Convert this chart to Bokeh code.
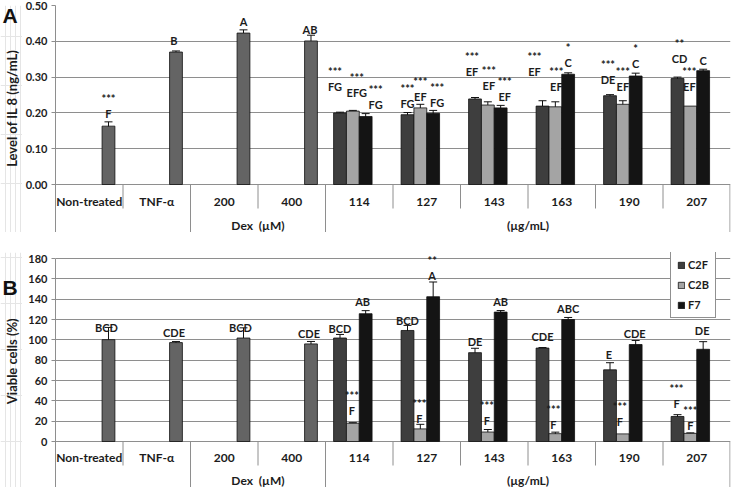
import math
from bokeh.plotting import figure
from bokeh.layouts import column, row
from bokeh.models import (ColumnDataSource, Range1d, FixedTicker, Whisker, TeeHead,
                          Legend, LegendItem, NumeralTickFormatter)
from bokeh.core.properties import value
from bokeh.embed import file_html
from bokeh.resources import INLINE

# ---------------- data ----------------
groups = ["Non-treated", "TNF-\u03b1", "200", "400", "114", "127", "143", "163", "190", "207"]
ctrl_groups = ["Non-treated", "TNF-\u03b1", "200", "400"]
dex_groups = ["200", "400"]
extract_groups = ["114", "127", "143", "163", "190", "207"]
dex_title = "Dex\u00a0\u00a0(\u00b5M)"
extract_title = "(\u00b5g/mL)"
series_names = ["C2F", "C2B", "F7"]

# Panel A: IL 8 (ng/mL)
il8_ctrl = [0.163, 0.370, 0.423, 0.401]
il8_ctrl_err = [0.012, 0.003, 0.009, 0.016]
il8_c2f = [0.200, 0.195, 0.239, 0.219, 0.248, 0.296]
il8_c2f_err = [0.002, 0.006, 0.004, 0.015, 0.003, 0.004]
il8_c2b = [0.205, 0.214, 0.222, 0.217, 0.224, 0.219]
il8_c2b_err = [0.002, 0.010, 0.009, 0.014, 0.010, 0.0]
il8_f7 = [0.190, 0.199, 0.214, 0.308, 0.303, 0.318]
il8_f7_err = [0.008, 0.008, 0.007, 0.004, 0.008, 0.004]

il8_ctrl_letters = ["F", "B", "A", "AB"]
il8_ctrl_stars = ["***", "", "", ""]
il8_c2f_letters = ["FG", "FG", "EF", "EF", "DE", "CD"]
il8_c2f_stars = ["***", "***", "***", "***", "***", "**"]
il8_c2b_letters = ["EFG", "EF", "EF", "EF", "EF", "EF"]
il8_c2b_stars = ["***", "***", "***", "***", "***", "***"]
il8_f7_letters = ["FG", "FG", "EF", "C", "C", "C"]
il8_f7_stars = ["***", "***", "***", "*", "*", ""]

# Panel B: viable cells (%)
via_ctrl = [100.2, 97.3, 101.8, 96.0]
via_ctrl_err = [12.0, 1.0, 10.0, 2.4]
via_c2f = [101.8, 109.2, 87.4, 91.9, 70.5, 24.6]
via_c2f_err = [3.5, 5.0, 4.3, 0.5, 7.0, 1.8]
via_c2b = [18.0, 12.4, 9.3, 7.7, 7.5, 8.0]
via_c2b_err = [0.5, 4.5, 2.5, 1.5, 0.0, 0.5]
via_f7 = [125.7, 142.4, 127.3, 120.0, 95.4, 90.7]
via_f7_err = [3.0, 14.5, 1.5, 2.0, 4.0, 7.5]

via_ctrl_letters = ["BCD", "CDE", "BCD", "CDE"]
via_ctrl_stars = ["", "", "", ""]
via_c2f_letters = ["BCD", "BCD", "DE", "CDE", "E", "F"]
via_c2f_stars = ["", "", "", "", "", "***"]
via_c2b_letters = ["F", "F", "F", "F", "F", "F"]
via_c2b_stars = ["***", "***", "***", "***", "***", "***"]
via_f7_letters = ["AB", "A", "AB", "ABC", "CDE", "DE"]
via_f7_stars = ["", "**", "", "", "", ""]

# ---------------- layout / style ----------------
W = 732
SIDE = 22          # strip holding the panel letter and the y title
BL = 33            # room for tick labels
ROW1_H = 24
BAR_W = 0.19
OFFS = {"ctrl": 1.5, "C2F": -1.5, "C2B": -0.5, "F7": 0.5}
COLORS = {"ctrl": "#646464", "C2F": "#3e3e3e", "C2B": "#a4a4a4", "F7": "#141414"}
GRID = "#8e8e8e"
TXT = "#1c1c1c"
FONT = "Lato"
STAR_GAP = 15

# label placement (pixels above the error-bar top, and horizontal nudge)
A_DY = {"ctrl": [8, 10, 8, 6], "C2F": [26, 9, 26, 29, 15, 19],
        "C2B": [18, 8, 16, 15, 14, 20], "F7": [9, 8, 9, 10, 10, 9]}
A_DX = {"ctrl": [0, -2, 0, -1], "C2F": [-5, 0, -3, -8, -2, 2],
        "C2B": [4, 0, 1, 1, 0, -1], "F7": [10, 4, 4, 0, 0, 0]}
B_DY = {"ctrl": [0, 9, 0, 8], "C2F": [6, 5, 7, 11, 8, 11],
        "C2B": [12, 6, 9, 8, 12, 7], "F7": [9, 6, 9, 9, 7, 11]}
B_DX = {"ctrl": [-2, -2, -3, -2], "C2F": [0, 0, 0, 0, -1, -1],
        "C2B": [-1, -1, -1, -2, -3, 0], "F7": [-3, -1, 0, 0, -1, -1]}


def make_panel(cfg):
    H, BT, BR = cfg["height"], cfg["border_top"], cfg["border_right"]
    TH = cfg["table_h"]
    PW = W - SIDE
    frame_h = H - BT
    frame_w = PW - BL - BR
    upp = cfg["upp"]
    xpp = 10.0 / frame_w
    y_start = -TH * upp
    y_end = y_start + upp * frame_h
    p = figure(width=PW, height=H, x_range=Range1d(-0.5, 9.5), y_range=Range1d(y_start, y_end),
               x_axis_location=None, output_backend="svg", toolbar_location=None,
               min_border_left=BL, min_border_right=BR, min_border_top=BT,
               min_border_bottom=0)
    p.outline_line_color = None
    p.background_fill_color = "white"
    p.border_fill_color = "white"
    p.xgrid.visible = False
    tk = FixedTicker(ticks=cfg["ticks"])
    p.yaxis.ticker = tk
    p.ygrid.ticker = tk
    p.ygrid.grid_line_color = GRID
    p.ygrid.grid_line_width = 1
    ax = p.yaxis[0]
    ax.formatter = NumeralTickFormatter(format=cfg["fmt"])
    ax.bounds = (y_start, cfg["ticks"][-1])
    ax.axis_line_color = GRID
    ax.major_tick_line_color = GRID
    ax.major_tick_out = 4
    ax.major_tick_in = 0
    ax.minor_tick_line_color = None
    ax.major_label_text_font = FONT
    ax.major_label_text_font_style = "bold"
    ax.major_label_text_font_size = "11px"
    ax.major_label_text_color = TXT
    ax.major_label_standoff = 4

    renderers = {}
    ann = dict(x=[], y=[], t=[])
    for key, gs, vals, errs, lets, stars in cfg["series"]:
        xs = [groups.index(g) + OFFS[key] * BAR_W for g in gs]
        src = ColumnDataSource(dict(x=xs, top=vals))
        r = p.vbar(x="x", top="top", bottom=0, width=BAR_W, source=src,
                   fill_color=COLORS[key], line_color="#101010", line_width=0.8)
        renderers[key] = r
        ex = [x for x, e in zip(xs, errs) if e > 0]
        eu = [v + e for v, e in zip(vals, errs) if e > 0]
        el = [v - e for v, e in zip(vals, errs) if e > 0]
        esrc = ColumnDataSource(dict(x=ex, upper=eu, lower=el))
        p.add_layout(Whisker(source=esrc, base="x", upper="upper", lower="lower",
                             line_color="#101010", line_width=1,
                             upper_head=TeeHead(size=8, line_color="#101010", line_width=1),
                             lower_head=TeeHead(size=8, line_color="#101010", line_width=1)))
        for i, (x, v, e, L, S) in enumerate(zip(xs, vals, errs, lets, stars)):
            xl = x + cfg["dx"][key][i] * xpp
            yl = v + e + cfg["dy"][key][i] * upp
            if L:
                ann["x"].append(xl); ann["y"].append(yl); ann["t"].append(L)
            if S:
                ann["x"].append(xl); ann["y"].append(yl + STAR_GAP * upp); ann["t"].append(S)
    p.text(x="x", y="y", text="t", source=ColumnDataSource(ann), text_font=value(FONT),
           text_font_style="bold", text_font_size="11px", text_align="center",
           text_baseline="middle", text_color=TXT)

    # category table under the x axis (drawn in the same frame, below zero)
    n = len(groups)
    long_b = [groups.index(dex_groups[0]) - 0.5, groups.index(extract_groups[0]) - 0.5]
    right_b = n - 0.5 - 0.5 * xpp
    p.segment(x0=long_b + [right_b], y0=[0] * 3, x1=long_b + [right_b], y1=[y_start] * 3,
              line_color=GRID, line_width=1)
    short_b = [i + 0.5 for i in range(n - 1) if (i + 0.5) not in long_b]
    p.segment(x0=short_b, y0=[0] * len(short_b), x1=short_b,
              y1=[-ROW1_H * upp] * len(short_b), line_color=GRID, line_width=1)
    p.text(x=list(range(n)), y=[-cfg["row1_y"] * upp] * n, text=groups,
           text_font=value(FONT), text_font_style="bold", text_font_size="12px",
           text_align="center", text_baseline="middle", text_color=TXT)
    dex_c = sum(groups.index(g) for g in dex_groups) / len(dex_groups)
    ext_c = sum(groups.index(g) for g in extract_groups) / len(extract_groups)
    p.text(x=[dex_c, ext_c], y=[-cfg["row2_y"] * upp] * 2, text=[dex_title, extract_title],
           text_font=value(FONT), text_font_style="bold", text_font_size="12px",
           text_align="center", text_baseline="middle", text_color=TXT)

    # side strip: panel letter + rotated y title (pixel coordinates, origin bottom-left)
    s = figure(width=SIDE, height=H, x_range=Range1d(0, SIDE), y_range=Range1d(0, H),
               x_axis_location=None, y_axis_location=None, output_backend="svg",
               toolbar_location=None, min_border_left=0, min_border_right=0,
               min_border_top=0, min_border_bottom=0)
    s.outline_line_color = None
    s.background_fill_color = "white"
    s.border_fill_color = "white"
    s.text(x=[2], y=[cfg["letter_y"]], text=[cfg["letter"]], text_font=value("Liberation Sans"),
           text_font_style="bold", text_font_size="21px", text_align="left",
           text_baseline="middle", text_color="#111111")
    s.text(x=[SIDE / 2], y=[cfg["ylabel_y"]], text=[cfg["ylabel"]], angle=math.pi / 2,
           text_font=value(FONT), text_font_style="bold", text_font_size="13px",
           text_align="center", text_baseline="middle", text_color=TXT)
    return row(s, p, spacing=0), p, renderers


cfgA = dict(height=232, border_top=5, border_right=2, upp=0.5 / 179, table_h=48,
            row1_y=17, row2_y=41,
            ticks=[0.0, 0.1, 0.2, 0.3, 0.4, 0.5], fmt="0.00",
            ylabel="Level of IL 8 (ng/mL)", ylabel_y=127, letter="A", letter_y=222,
            dy=A_DY, dx=A_DX,
            series=[("ctrl", ctrl_groups, il8_ctrl, il8_ctrl_err, il8_ctrl_letters, il8_ctrl_stars),
                    ("C2F", extract_groups, il8_c2f, il8_c2f_err, il8_c2f_letters, il8_c2f_stars),
                    ("C2B", extract_groups, il8_c2b, il8_c2b_err, il8_c2b_letters, il8_c2b_stars),
                    ("F7", extract_groups, il8_f7, il8_f7_err, il8_f7_letters, il8_f7_stars)])
cfgB = dict(height=255, border_top=20, border_right=2, upp=180 / 183, table_h=46,
            row1_y=16, row2_y=39,
            ticks=list(range(0, 181, 20)), fmt="0",
            ylabel="Viable cells (%)", ylabel_y=137, letter="B", letter_y=217,
            dy=B_DY, dx=B_DX,
            series=[("ctrl", ctrl_groups, via_ctrl, via_ctrl_err, via_ctrl_letters, via_ctrl_stars),
                    ("C2F", extract_groups, via_c2f, via_c2f_err, via_c2f_letters, via_c2f_stars),
                    ("C2B", extract_groups, via_c2b, via_c2b_err, via_c2b_letters, via_c2b_stars),
                    ("F7", extract_groups, via_f7, via_f7_err, via_f7_letters, via_f7_stars)])

rowA, pA, rA = make_panel(cfgA)
rowB, pB, rB = make_panel(cfgB)

legend = Legend(items=[LegendItem(label=s, renderers=[rB[s]]) for s in series_names],
                location=(615, 169), orientation="vertical",
                border_line_color="#222222", border_line_width=1,
                background_fill_color="white", background_fill_alpha=1.0,
                label_text_font=FONT, label_text_font_style="bold",
                label_text_font_size="11px", label_text_color=TXT,
                glyph_width=8, glyph_height=8, label_height=13, label_standoff=3,
                spacing=7, padding=6, margin=0)
pB.add_layout(legend)

layout = column(rowA, rowB, spacing=0)
open("out.html", "w").write(file_html(layout, INLINE))
